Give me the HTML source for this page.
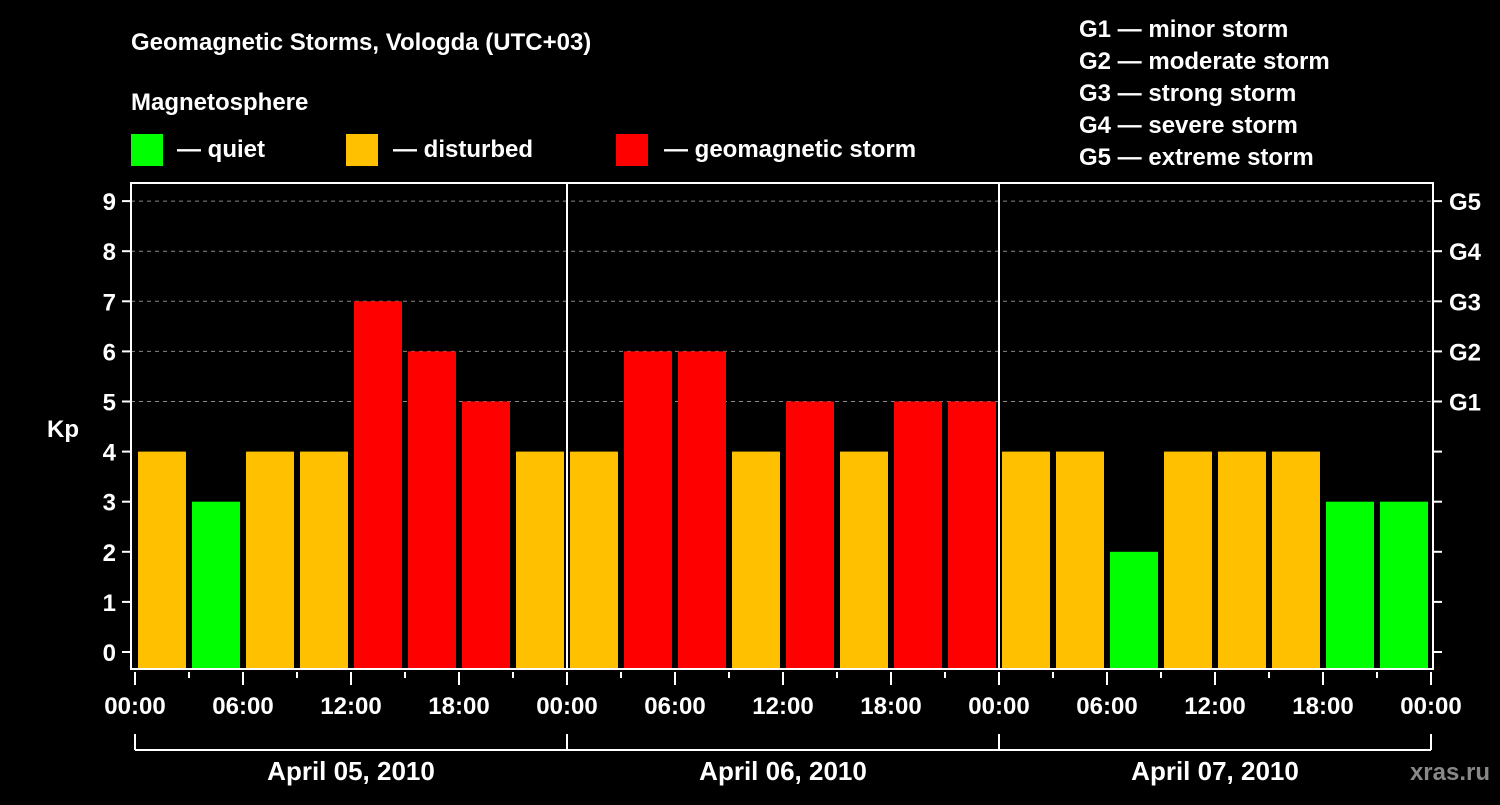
<!DOCTYPE html>
<html><head><meta charset="utf-8"><style>
body{margin:0;background:#000;}
svg text{font-family:"Liberation Sans",sans-serif;font-weight:bold;fill:#fff;}
</style></head><body>
<svg id="c" width="1500" height="800" xmlns="http://www.w3.org/2000/svg">
<text x="131" y="50" font-size="24">Geomagnetic Storms, Vologda (UTC+03)</text>
<text x="131" y="110" font-size="24">Magnetosphere</text>
<rect x="131" y="134" width="32" height="32" fill="#00ff00"/>
<text x="177" y="157" font-size="24">— quiet</text>
<rect x="346" y="134" width="32" height="32" fill="#ffc000"/>
<text x="393" y="157" font-size="24">— disturbed</text>
<rect x="616" y="134" width="32" height="32" fill="#ff0000"/>
<text x="664" y="157" font-size="24">— geomagnetic storm</text>
<g font-size="24">
<text x="1079" y="37">G1 — minor storm</text>
<text x="1079" y="69">G2 — moderate storm</text>
<text x="1079" y="101">G3 — strong storm</text>
<text x="1079" y="133">G4 — severe storm</text>
<text x="1079" y="165">G5 — extreme storm</text>
</g>
<text x="63" y="437" font-size="24" text-anchor="middle">Kp</text>
<text x="1490" y="780" font-size="24" text-anchor="end" fill="#888" style="fill:#888">xras.ru</text>
<g id="grid"></g><g id="bars"></g><g id="axes"></g>
</svg>
<script>
const kpValues=[4,3,4,4,7,6,5,4, 4,6,6,4,5,4,5,5, 4,4,2,4,4,4,3,3];
const dayLabels=["April 05, 2010","April 06, 2010","April 07, 2010"];
const yTicks=[0,1,2,3,4,5,6,7,8,9];
const gLabels=["G1","G2","G3","G4","G5"];
const hourLabels=["00:00","06:00","12:00","18:00"];
const NS="http://www.w3.org/2000/svg";
const x0=135,dayW=432,slot=54,plotL=131,plotR=1433,plotT=183,plotB=669;
const yS=v=>652-v*50.1;
const xS=h=>x0+h*dayW/24;
function mk(t,a,p){const e=document.createElementNS(NS,t);for(const k in a)e.setAttribute(k,a[k]);p.appendChild(e);return e;}
const grid=document.getElementById('grid'),bars=document.getElementById('bars'),axes=document.getElementById('axes');
yTicks.forEach(v=>{
 if(v>=5){const l=mk('line',{x1:plotL,x2:plotR,y1:yS(v),y2:yS(v),stroke:'#888','stroke-dasharray':'4,4'},grid);
 
 }
 const t=mk('line',{x1:122,x2:plotL,y1:yS(v),y2:yS(v),stroke:'#fff','stroke-width':2},axes);
 
 
 const lb=mk('text',{x:116,y:yS(v)+9,'font-size':24,'text-anchor':'end'},axes);lb.textContent=v;
 
 
 const rt=mk('line',{x1:plotR,x2:1442,y1:yS(v),y2:yS(v),stroke:'#fff','stroke-width':2},axes);
 
 
});
gLabels.forEach((g,i)=>{const t=mk('text',{x:1449,y:yS(i+5)+9,'font-size':24},axes);t.textContent=g;
 
 });
kpValues.forEach((v,i)=>{
 const c=v<4?'#00ff00':(v<5?'#ffc000':'#ff0000');
 const r=mk('rect',{x:x0+i*slot+3,y:yS(v),width:48,height:plotB-yS(v)-1,fill:c},bars);
 
 
});
const fr=mk('rect',{x:plotL,y:plotT,width:plotR-plotL,height:plotB-plotT,fill:'none',stroke:'#fff','stroke-width':2},axes);


for(let d=1;d<dayLabels.length;d++){const l=mk('line',{x1:x0+d*dayW,x2:x0+d*dayW,y1:plotT,y2:plotB,stroke:'#fff','stroke-width':2},axes);
 
 }
for(let h=0;h<=24*dayLabels.length;h+=3){
 const major=h%6===0;
 const t=mk('line',{x1:xS(h),x2:xS(h),y1:672,y2:major?685:678,stroke:'#fff','stroke-width':2},axes);
 
 
 if(major){const lb=mk('text',{x:xS(h),y:714,'font-size':24,'text-anchor':'middle'},axes);lb.textContent=hourLabels[(h/6)%4];
 
 }
}
const br=mk('path',{d:'',fill:'none',stroke:'#fff','stroke-width':2},axes);
let d='M'+x0+',750 H'+xS(24*dayLabels.length);
for(let i=0;i<=dayLabels.length;i++)d+=' M'+(x0+i*dayW)+',734 V750';
br.setAttribute('d',d);


dayLabels.forEach((s,i)=>{const t=mk('text',{x:x0+i*dayW+dayW/2,y:780,'font-size':26,'text-anchor':'middle'},axes);t.textContent=s;
 
 });
</script>
</body></html>
